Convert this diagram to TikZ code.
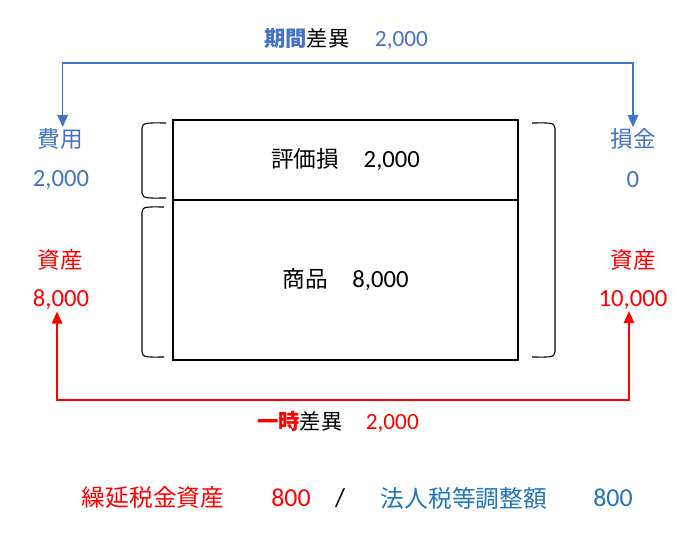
\documentclass[tikz,border=0pt]{standalone}
\usepackage{fontspec}
\setmainfont{Carlito}[Scale=1.09]
\newfontfamily\jp{Noto Sans CJK JP}
\usetikzlibrary{arrows.meta,positioning}
\definecolor{kblue}{HTML}{4472C4}
\definecolor{tblue}{HTML}{1F74BC}
\definecolor{kred}{HTML}{FF0000}

\begin{document}
\begin{tikzpicture}
            [x=0.75pt, y=-0.75pt,
            every node/.style={inner sep=1pt, font=\fontsize{17}{20}\selectfont},
            cell/.style={draw, rectangle, minimum width=258.75pt, inner sep=0pt, outer sep=0pt, line width=0.8pt},
            brk/.style={line width=0.8pt},
            barrow/.style={draw=kblue, line width=0.8pt, {Triangle[width=8pt,length=9pt]}-{Triangle[width=8pt,length=9pt]}},
            rarrow/.style={draw=kred, line width=0.8pt, {Triangle[width=8pt,length=9pt]}-{Triangle[width=8pt,length=9pt]}},
            small/.style={font=\fontsize{16}{19}\selectfont},
            entry/.style={font=\fontsize{17.8}{20}\selectfont}]

            \useasboundingbox (0,0) rectangle (682,541);

            % box
            \node[cell, minimum height=60pt] (hyoka) at (345.5,160)
                {{\jp 評価損}\hspace{1em}2,000};
            \node[cell, minimum height=120pt, below=0pt of hyoka] (shohin)
                {{\jp 商品}\hspace{1em}8,000};

            % brackets
            \draw[brk] (166,123) .. controls (149,123) and (142,122) .. (142,128) -- (142,193)
                .. controls (142,199) and (149,198) .. (166,198);
            \draw[brk] (164,207) .. controls (149,207) and (142,206) .. (142,212) -- (142,352)
                .. controls (142,358) and (149,357) .. (164,357);
            \draw[brk] (532,123) .. controls (548,123) and (555,122) .. (555,128) -- (555,352)
                .. controls (555,358) and (548,357) .. (532,357);

            % side labels
            \node[text=kblue] (hiyou) at (60,139) {\jp 費用};
            \node[text=kblue] (hiyouV) at (61,180) {2,000};
            \node[text=kblue] (sonkin) at (633,139) {\jp 損金};
            \node[text=kblue] (sonkinV) at (633,180) {0};
            \node[text=kred] (shisanL) at (60,260) {\jp 資産};
            \node[text=kred] (shisanLV) at (61,300) {8,000};
            \node[text=kred] (shisanR) at (633,260) {\jp 資産};
            \node[text=kred] (shisanRV) at (633,300) {10,000};

            % differences
            \node[small] (kikan) at (346,39)
                {{\jp\bfseries\color{kblue}期間}{\jp 差異}\hspace{1.1em}{\color{kblue}2,000}};
            \node[small] (ichiji) at (338,422)
                {{\jp\bfseries\color{kred}一時}{\jp 差異}\hspace{1em}{\color{kred}2,000}};
            \coordinate (kikanY) at (345,63);
            \coordinate (ichijiY) at (345,400);
            \draw[barrow] ([xshift=2pt]hiyou.north) |- (kikanY) -| (sonkin.north);
            \draw[rarrow] ([xshift=-3pt]shisanLV.south) |- (ichijiY) -| ([xshift=-3pt]shisanRV.south);

            % journal entry
            \node[entry, text=kred] (dta) at (153,498) {\jp 繰延税金資産};
            \node[entry, text=kred] (dtaV) at (291,498) {800};
            \node[entry] (slash) at (340,498) {/};
            \node[entry, text=tblue] (hojin) at (464,498) {\jp 法人税等調整額};
            \node[entry, text=tblue] (hojinV) at (613,498) {800};
        \end{tikzpicture}
\end{document}
